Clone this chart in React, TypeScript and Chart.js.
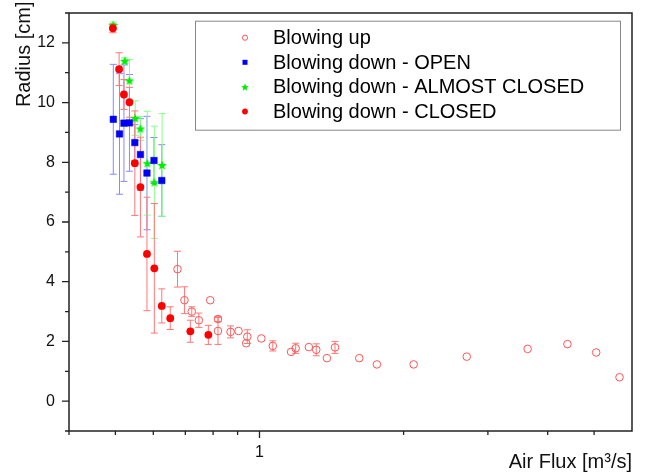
import React, { useEffect, useRef } from 'react';
import { Chart, registerables } from 'chart.js';
Chart.register(...registerables);

// Blowing up (open circles)
const upX = [0.674, 0.697, 0.722, 0.747, 0.789, 0.819, 0.819, 0.870, 0.904, 0.938, 0.943, 1.009, 1.066, 1.164, 1.19, 1.268, 1.314, 1.383, 1.438, 1.616, 1.759, 2.099, 2.71, 3.632, 4.398, 5.05, 5.65];
const upY = [4.42, 3.38, 3.0, 2.71, 3.38, 2.75, 2.35, 2.32, 2.35, 1.94, 2.16, 2.10, 1.85, 1.65, 1.77, 1.81, 1.72, 1.44, 1.80, 1.44, 1.23, 1.23, 1.49, 1.75, 1.91, 1.63, 0.80];
const upErr = [0.6, 0.45, 0.16, 0.24, 0, 0.08, 0.45, 0.2, 0, 0, 0.23, 0, 0.17, 0, 0.17, 0, 0.2, 0, 0.2, 0, 0, 0, 0, 0, 0, 0, 0];

// Blowing down - OPEN (blue squares)
const openX = [0.495, 0.510, 0.521, 0.535, 0.549, 0.564, 0.582, 0.602, 0.625];
const openY = [9.44, 8.95, 9.31, 9.32, 8.66, 8.26, 7.64, 8.06, 7.39];
const openErr = [1.84, 2.02, 1.95, 1.62, 0.6, 1.2, 1.9, 0.77, 1.2];

// Blowing down - ALMOST CLOSED (green stars)
const almostX = [0.495, 0.523, 0.535, 0.550, 0.564, 0.583, 0.603, 0.626];
const almostY = [12.6, 11.4, 10.74, 9.48, 9.13, 7.97, 7.33, 7.91];
const almostErr = [0.1, 0.1, 0.7, 0.58, 0.4, 1.74, 1.88, 1.72];

// Blowing down - CLOSED (red dots)
const closedX = [0.494, 0.509, 0.521, 0.535, 0.549, 0.564, 0.582, 0.603, 0.625, 0.651, 0.717, 0.782];
const closedY = [12.49, 11.12, 10.27, 10.01, 7.97, 7.17, 4.93, 4.45, 3.19, 2.78, 2.34, 2.22];
const closedErr = [0.15, 0.55, 0.5, 0.5, 1.75, 1.67, 1.9, 2.17, 0.57, 0.38, 0.37, 0.32];

const XTICKS = [0.4, 0.5, 0.6, 0.7, 0.8, 0.9, 1, 2, 3, 4, 5];
const XLABELS = ['', '', '', '', '', '', '1', '', '', '', ''];
const XMAJOR = [1];
const YTICKS = [0, 2, 4, 6, 8, 10, 12];
const YMINOR = [-1, 0, 1, 2, 3, 4, 5, 6, 7, 8, 9, 10, 11, 12, 13];

const LEGEND = ['Blowing up', 'Blowing down - OPEN', 'Blowing down - ALMOST CLOSED', 'Blowing down - CLOSED'];

const FONT = 'Arial, "Liberation Sans", sans-serif';

function makeStar(size: number, color: string) {
  const c = document.createElement('canvas');
  c.width = size;
  c.height = size;
  const g = c.getContext('2d')!;
  const cx = size / 2, cy = size / 2 + 0.5, R = size / 2, r = R * 0.45;
  g.beginPath();
  for (let i = 0; i < 10; i++) {
    const a = -Math.PI / 2 + (i * Math.PI) / 5;
    const rad = i % 2 ? r : R;
    g.lineTo(cx + rad * Math.cos(a), cy + rad * Math.sin(a));
  }
  g.closePath();
  g.fillStyle = color;
  g.fill();
  return c;
}

const pts = (xs: number[], ys: number[]) => xs.map((x, i) => ({ x, y: ys[i] }));

export default function App() {
  const ref = useRef<HTMLCanvasElement>(null);
  useEffect(() => {
    const star = makeStar(10, '#00ee00');
    const starSmall = makeStar(8, '#00ee00');

    const errSets = [
      { xs: upX, ys: upY, es: upErr, color: '#ff7777' },
      { xs: openX, ys: openY, es: openErr, color: '#8888ff' },
      { xs: almostX, ys: almostY, es: almostErr, color: '#88ff88' },
      { xs: closedX, ys: closedY, es: closedErr, color: '#ff7777' },
    ];

    const framePlugin = {
      id: 'frameAndErrors',
      beforeDatasetsDraw(chart: any) {
        const { ctx, chartArea: ca, scales } = chart;
        const xs = scales.x, ys = scales.y;
        ctx.save();
        ctx.lineWidth = 1;
        for (const s of errSets) {
          ctx.strokeStyle = s.color;
          s.xs.forEach((xv, i) => {
            const e = s.es[i];
            if (!e) return;
            const px = xs.getPixelForValue(xv);
            const y1 = ys.getPixelForValue(s.ys[i] + e);
            const y2 = ys.getPixelForValue(s.ys[i] - e);
            ctx.beginPath();
            ctx.moveTo(px, y1);
            ctx.lineTo(px, y2);
            ctx.moveTo(px - 3.5, y1);
            ctx.lineTo(px + 3.5, y1);
            ctx.moveTo(px - 3.5, y2);
            ctx.lineTo(px + 3.5, y2);
            ctx.stroke();
          });
        }
        ctx.strokeStyle = '#222';
        ctx.lineWidth = 1.5;
        ctx.strokeRect(ca.left, ca.top, ca.right - ca.left, ca.bottom - ca.top);
        ctx.lineWidth = 1.3;
        ctx.beginPath();
        for (const v of YMINOR) {
          const py = ys.getPixelForValue(v);
          const len = YTICKS.includes(v) ? 7 : 4;
          ctx.moveTo(ca.left, py);
          ctx.lineTo(ca.left - len, py);
        }
        for (const v of XTICKS) {
          const px = xs.getPixelForValue(v);
          const len = XMAJOR.includes(v) ? 7 : 4;
          ctx.moveTo(px, ca.bottom);
          ctx.lineTo(px, ca.bottom + len);
        }
        ctx.stroke();
        ctx.restore();
      },
      afterDraw(chart: any) {
        const { ctx, chartArea: ca } = chart;
        ctx.save();
        ctx.font = `20px ${FONT}`;
        ctx.fillStyle = '#111';
        ctx.translate(24, ca.top - 11.5);
        ctx.rotate(-Math.PI / 2);
        ctx.textAlign = 'right';
        ctx.textBaseline = 'middle';
        ctx.fillText('Radius [cm]', 0, 0);
        ctx.restore();

        ctx.save();
        const bx = ca.left + 126, by = ca.top + 7.7, bw = 425, bh = 109;
        ctx.fillStyle = '#fff';
        ctx.fillRect(bx, by, bw, bh);
        ctx.strokeStyle = '#888';
        ctx.lineWidth = 1;
        ctx.strokeRect(bx + 0.5, by + 0.5, bw, bh);
        ctx.font = `20px ${FONT}`;
        ctx.fillStyle = '#000';
        ctx.textBaseline = 'middle';
        ctx.textAlign = 'left';
        LEGEND.forEach((t, i) => {
          const y = by + 17 + i * 24.6;
          const mx = bx + 50;
          if (i === 0) {
            ctx.beginPath();
            ctx.arc(mx, y, 2.6, 0, Math.PI * 2);
            ctx.strokeStyle = '#ff5555';
            ctx.lineWidth = 1;
            ctx.stroke();
          } else if (i === 1) {
            ctx.fillStyle = '#0000ff';
            ctx.fillRect(mx - 2.5, y - 2.5, 5, 5);
          } else if (i === 2) {
            ctx.drawImage(starSmall, mx - 4, y - 4);
          } else {
            ctx.beginPath();
            ctx.arc(mx, y, 2.9, 0, Math.PI * 2);
            ctx.fillStyle = '#ff0000';
            ctx.fill();
          }
          ctx.fillStyle = '#000';
          ctx.fillText(t, bx + 78, y + 1);
        });
        ctx.restore();
      },
    };

    const chart = new Chart(ref.current!, {
      type: 'scatter',
      data: {
        datasets: [
          {
            label: LEGEND[0],
            data: pts(upX, upY),
            pointStyle: 'circle',
            pointRadius: 3.8,
            borderColor: '#ff5555',
            backgroundColor: 'rgba(0,0,0,0)',
            borderWidth: 1,
            order: 3,
          },
          {
            label: LEGEND[1],
            data: pts(openX, openY),
            pointStyle: 'rect',
            pointRadius: 4.6,
            borderColor: '#0000cc',
            backgroundColor: '#0000ff',
            borderWidth: 0.5,
            order: 1,
          },
          {
            label: LEGEND[2],
            data: pts(almostX, almostY),
            pointStyle: star as any,
            pointRadius: 5,
            order: 2,
          },
          {
            label: LEGEND[3],
            data: pts(closedX, closedY),
            pointStyle: 'circle',
            pointRadius: 3.9,
            borderColor: '#ff0000',
            backgroundColor: '#ff0000',
            borderWidth: 0,
            order: 0,
          },
        ],
      },
      options: {
        animation: false,
        responsive: true,
        maintainAspectRatio: false,
        layout: { padding: { top: 13, right: 19, left: 0, bottom: 0 } },
        plugins: { legend: { display: false }, tooltip: { enabled: false } },
        scales: {
          x: {
            type: 'logarithmic',
            min: 0.4,
            max: 6,
            afterBuildTicks: (s: any) => {
              s.ticks = XTICKS.map((v) => ({ value: v }));
            },
            afterFit: (s: any) => {
              s.height = 42;
              s.paddingLeft = 0;
              s.paddingRight = 0;
            },
            ticks: {
              autoSkip: false,
              maxRotation: 0,
              padding: 12,
              color: '#111',
              font: { size: 16, family: FONT },
              callback: (v: any) => XLABELS[XTICKS.indexOf(Number(v))] ?? '',
            },
            grid: { display: false, drawTicks: false },
            border: { display: false },
            title: {
              display: true,
              text: 'Air Flux [m³/s]',
              align: 'end',
              color: '#111',
              font: { size: 20, family: FONT },
              padding: { top: 0, bottom: -1 },
            },
          },
          y: {
            type: 'linear',
            min: -1,
            max: 13,
            afterBuildTicks: (s: any) => {
              s.ticks = YTICKS.map((v) => ({ value: v }));
            },
            afterFit: (s: any) => {
              s.width = 69;
              s.paddingTop = 0;
              s.paddingBottom = 0;
            },
            ticks: {
              padding: 14,
              color: '#111',
              font: { size: 16, family: FONT },
            },
            grid: { display: false, drawTicks: false },
            border: { display: false },
          },
        },
      },
      plugins: [framePlugin],
    } as any);
    return () => chart.destroy();
  }, []);
  return (
    <div style={{ position: 'fixed', left: 0, top: 0, width: 651, height: 473, background: '#fff' }}>
      <canvas ref={ref} />
    </div>
  );
}
